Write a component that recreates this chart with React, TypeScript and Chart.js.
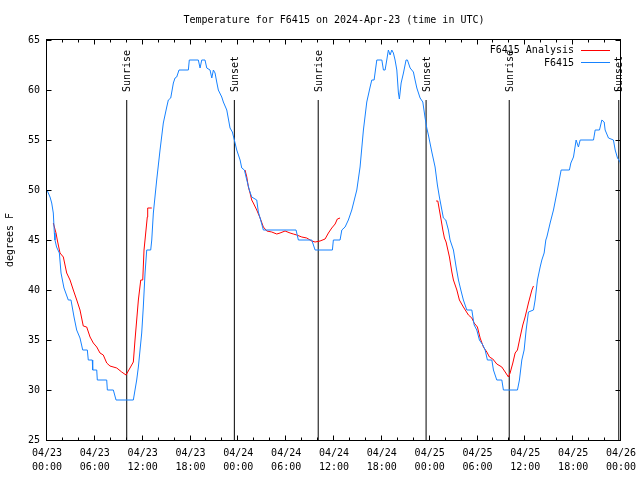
import React, { useEffect, useRef } from 'react';
import { Chart, registerables } from 'chart.js';

Chart.register(...registerables);

const TITLE = 'Temperature for F6415 on 2024-Apr-23 (time in UTC)';
const Y_TITLE = 'degrees F';
const DAY_LABELS = ['04/23', '04/24', '04/25', '04/26'];
const TIME_LABELS = ['00:00', '06:00', '12:00', '18:00'];
const OBS_LABEL = 'F6415';
const ANALYSIS_LABEL = 'F6415 Analysis';
const SUNRISE_LABEL = 'Sunrise';
const SUNSET_LABEL = 'Sunset';

// hours since 04/23 00:00 UTC
const obsHours = [
  0.0, 0.38, 0.59, 0.79, 0.92, 1.0, 1.2, 1.55, 1.76, 2.13, 2.67, 3.01, 3.39, 3.72, 4.14, 4.48, 5.06, 5.18,
  5.68, 5.73, 6.24, 6.31, 7.49, 7.57, 8.32, 8.66, 10.83, 11.04, 11.25, 11.46, 11.67, 11.88, 12.08, 12.3,
  12.51, 13.01, 13.14, 13.34, 13.76, 14.18, 14.59, 15.02, 15.22, 15.52, 15.85, 16.06, 16.27, 16.56, 17.73,
  17.85, 18.98, 19.2, 19.41, 19.82, 20.04, 20.45, 20.67, 20.87, 21.08, 21.29, 21.49, 21.92, 22.12, 22.55,
  22.96, 23.25, 23.5, 23.8, 24.22, 24.43, 24.76, 25.06, 25.38, 25.68, 26.31, 26.51, 26.73, 27.14, 31.24,
  31.53, 33.21, 33.63, 35.8, 35.92, 36.76, 36.98, 37.39, 37.8, 38.23, 38.64, 38.86, 39.27, 39.69, 40.11,
  40.53, 40.74, 41.03, 41.37, 42.0, 42.2, 42.41, 42.62, 42.82, 43.04, 43.25, 43.45, 43.66, 43.88, 44.08,
  44.2, 44.42, 44.71, 45.04, 45.21, 45.55, 45.96, 46.17, 46.39, 46.8, 47.14, 47.43, 47.64, 47.84, 48.27,
  48.68, 48.97, 49.22, 49.72, 50.02, 50.35, 50.56, 50.98, 51.32, 51.61, 51.91, 52.23, 52.66, 53.29, 53.58,
  53.91, 54.24, 54.67, 54.96, 55.24, 55.8, 56.0, 56.42, 57.05, 57.25, 59.01, 59.26, 59.56, 59.85, 60.1,
  60.39, 61.02, 61.23, 61.52, 61.86, 62.07, 62.36, 62.57, 62.7, 63.11, 63.53, 63.95, 64.49, 65.53, 65.71,
  66.04, 66.37, 66.66, 66.88, 68.55, 68.76, 69.3, 69.6, 69.89, 70.01, 70.43, 71.05, 71.27, 71.56, 71.89, 72.0,
];
const obsTemps = [
  50, 49.3, 48.7, 47.7, 45.7, 45, 44.3, 43.7, 41.7, 40.2, 39, 39, 37.3, 36, 35.2, 34, 34, 33,
  33, 32, 32, 31, 31, 30, 30, 29, 29, 30, 31, 32.3, 34, 35.7, 38.3, 41.7,
  44, 44, 45, 47.7, 51, 54, 56.7, 58.3, 59, 59.2, 60.7, 61.2, 61.3, 62, 62,
  63, 63, 62.2, 63, 63, 62.2, 62, 61.2, 62, 61.7, 60.8, 60, 59.3, 58.8, 58,
  56.2, 55.8, 55, 54, 53, 52.2, 52, 51, 50, 49.3, 49, 47.8, 47.2, 46, 46,
  45, 45, 44, 44, 45, 45, 46, 46.3, 47, 48, 49.3, 50, 52.3, 56, 58.8,
  60.3, 61, 61, 63, 63, 62, 62, 63, 64, 63.5, 64, 63.7, 63, 62, 59.7,
  59.1, 60.7, 61.7, 63, 63, 62.2, 61.8, 61, 60.2, 59.2, 58.8, 57.2, 56.2, 55.5, 53.8,
  52.3, 50.5, 49.3, 47.2, 47, 46, 45, 44, 42.3, 41, 40, 39, 38, 38, 36.5,
  36, 35, 34.5, 34, 33, 33, 32, 31, 31, 30, 30, 31, 33, 34, 36,
  37.8, 38, 39, 41, 42.3, 43, 43.7, 45, 45.3, 46.7, 48, 49.7, 52, 52, 52.7,
  53.3, 55, 54.3, 55, 55, 56, 56, 57, 56.8, 56, 55.2, 55, 54, 53.2, 52.8, 52.3,
];

const analysisHours = [
  0.79, 1.13, 1.29, 1.63, 2.05, 2.47, 2.89, 3.3, 3.73, 4.14, 4.55, 4.98, 5.4, 5.81, 6.24, 6.65, 7.06, 7.49,
  7.9, 8.75, 9.37, 9.91, 10.41, 10.83, 11.04, 11.25, 11.46, 11.76, 12.01, 12.17, 12.42, 12.58, 12.63, 13.14,
  13.5,
  24.84, 25.06, 25.26, 25.47, 25.68, 25.88, 26.31, 26.73, 27.14, 27.57, 28.19, 28.82, 29.23, 29.86, 30.49,
  30.9, 31.33, 31.96, 32.58, 33.21, 33.63, 34.25, 34.88, 35.3, 35.72, 36.14, 36.42, 36.76,
  37.0,
  48.81, 49.02, 49.22, 49.44, 49.65, 49.85, 50.06, 50.48, 50.78, 50.98, 51.41, 51.73, 52.23, 52.86, 53.29,
  53.58, 53.99, 54.33, 54.74, 55.17, 55.5, 55.92, 56.42, 57.05, 57.47, 57.88, 58.09, 58.43, 58.72, 59.01,
  59.35, 59.68, 59.97, 60.39, 60.82, 61.02,
];
const analysisTemps = [
  46.7, 45.7, 45, 43.7, 43.3, 41.7, 41, 40, 39, 38, 36.4, 36.3, 35.3, 34.7, 34.3, 33.7, 33.5, 32.7,
  32.4, 32.2, 31.8, 31.5, 32.2, 32.8, 35, 37, 39, 41, 41, 44, 46, 47.3, 48.2, 48.2,
  null,
  52, 51.3, 50.3, 49.7, 49, 48.7, 48, 47.2, 46.3, 45.9, 45.8, 45.6, 45.7, 45.9, 45.7,
  45.6, 45.5, 45.3, 45.2, 44.9, 44.8, 44.9, 45.1, 45.7, 46.2, 46.6, 47.1, 47.2,
  null,
  48.9, 48.9, 48, 47, 46, 45.2, 44.8, 43.3, 41.8, 41, 40, 39, 38.3, 37.5, 37.2,
  36.7, 36.3, 35.2, 34.3, 33.8, 33.3, 33.1, 32.6, 32.3, 31.8, 31.3, 31.7, 32.7, 33.7, 34,
  35.3, 36.5, 37.3, 38.7, 40, 40.4,
];

const sunriseHours = [10.0, 34.02, 57.98];
const sunsetHours = [23.5, 47.55, 71.72];

const Y_MIN = 25;
const Y_MAX = 65;
const X_MIN = 0;
const X_MAX = 72;

const OBS_COLOR = '#1682ff';
const ANALYSIS_COLOR = '#ff0000';
const FONT = '"DejaVu Sans Mono", "Liberation Mono", monospace';

const gnuplotFrame = {
  id: 'gnuplotFrame',
  afterDraw(chart: any) {
    const { ctx, chartArea: a, scales } = chart;
    const xs = scales.x;
    const ys = scales.y;
    ctx.save();
    ctx.strokeStyle = '#000';
    ctx.lineWidth = 1;
    const L = a.left - 0.5;
    const R = a.right - 0.5;
    const T = a.top - 0.5;
    const B = a.bottom + 0.5;
    ctx.strokeRect(L, T, R - L, B - T);
    ctx.beginPath();
    for (let v = X_MIN; v <= X_MAX; v += 2) {
      const px = Math.round(xs.getPixelForValue(v)) - 0.5;
      const len = v % 6 === 0 ? 5 : 3;
      ctx.moveTo(px, B);
      ctx.lineTo(px, B - len);
      ctx.moveTo(px, T);
      ctx.lineTo(px, T + len);
    }
    for (let v = Y_MIN; v <= Y_MAX; v += 5) {
      const py = Math.round(ys.getPixelForValue(v)) + 0.5;
      ctx.moveTo(L, py);
      ctx.lineTo(L + 5, py);
      ctx.moveTo(R, py);
      ctx.lineTo(R - 5, py);
    }
    ctx.stroke();

    // sunrise / sunset labels
    ctx.fillStyle = '#000';
    ctx.font = '10px ' + FONT;
    ctx.textAlign = 'left';
    ctx.textBaseline = 'middle';
    const labelY = ys.getPixelForValue(Y_MIN + 0.87 * (Y_MAX - Y_MIN));
    const drawLabel = (h: number, text: string) => {
      const px = xs.getPixelForValue(h) + 1;
      ctx.save();
      ctx.translate(px, labelY);
      ctx.rotate(-Math.PI / 2);
      ctx.fillText(text, 0, 0);
      ctx.restore();
    };
    sunriseHours.forEach((h) => drawLabel(h, SUNRISE_LABEL));
    sunsetHours.forEach((h) => drawLabel(h, SUNSET_LABEL));

    // legend
    const legendItems = [
      { text: ANALYSIS_LABEL, color: ANALYSIS_COLOR },
      { text: OBS_LABEL, color: OBS_COLOR },
    ];
    legendItems.forEach((item, i) => {
      const ty = a.top + 10.5 + i * 12.5;
      ctx.textAlign = 'right';
      ctx.fillStyle = '#000';
      ctx.fillText(item.text, a.right - 47, ty);
      ctx.strokeStyle = item.color;
      ctx.beginPath();
      ctx.moveTo(a.right - 40, Math.round(ty - 1) + 0.5);
      ctx.lineTo(a.right - 11, Math.round(ty - 1) + 0.5);
      ctx.stroke();
    });

    // title
    ctx.fillStyle = '#000';
    ctx.textAlign = 'center';
    ctx.fillText(TITLE, (a.left + a.right) / 2, 20);
    ctx.restore();
  },
};

function vline(h: number) {
  return {
    label: '',
    data: [
      { x: h, y: Y_MIN },
      { x: h, y: 59 },
    ],
    borderColor: '#000',
    borderWidth: 1,
    pointRadius: 0,
    tension: 0,
  };
}

export default function App() {
  const ref = useRef<HTMLCanvasElement | null>(null);
  useEffect(() => {
    document.body.style.margin = '0';
    const canvas = ref.current;
    if (!canvas) return;
    const obsData = obsHours.map((h, i) => ({ x: h, y: obsTemps[i] }));
    const analysisData = analysisHours.map((h, i) => ({ x: h, y: analysisTemps[i] }));
    const chart = new Chart(canvas, {
      type: 'line',
      data: {
        datasets: [
          {
            label: OBS_LABEL,
            data: obsData,
            borderColor: OBS_COLOR,
            borderWidth: 1,
            pointRadius: 0,
            tension: 0,
          },
          {
            label: ANALYSIS_LABEL,
            data: analysisData as any,
            borderColor: ANALYSIS_COLOR,
            borderWidth: 1,
            pointRadius: 0,
            tension: 0,
            spanGaps: false,
          },
          ...sunriseHours.map(vline),
          ...sunsetHours.map(vline),
        ],
      },
      options: {
        animation: false,
        responsive: false,
        devicePixelRatio: 1,
        layout: { padding: { top: 40, right: 19, left: 0, bottom: 0 } },
        plugins: {
          legend: { display: false },
          title: { display: false },
          tooltip: { enabled: false },
        },
        scales: {
          x: {
            type: 'linear',
            min: X_MIN,
            max: X_MAX,
            grid: { display: false, drawTicks: false },
            border: { display: false },
            afterFit: (s: any) => {
              s.height = 40;
              s.paddingLeft = 0;
              s.paddingRight = 0;
            },
            ticks: {
              stepSize: 2,
              autoSkip: false,
              maxRotation: 0,
              minRotation: 0,
              padding: 7,
              color: '#000',
              font: { family: FONT, size: 10, lineHeight: 1.35 },
              callback: (value: any) => {
                const v = Number(value);
                if (v % 6 !== 0) return '';
                const day = Math.floor(v / 24);
                const t = (v % 24) / 6;
                return [DAY_LABELS[day], TIME_LABELS[t]];
              },
            },
          },
          y: {
            type: 'linear',
            min: Y_MIN,
            max: Y_MAX,
            grid: { display: false, drawTicks: false },
            border: { display: false },
            afterFit: (s: any) => {
              s.width = 47;
              s.paddingTop = 0;
              s.paddingBottom = 0;
            },
            title: {
              display: true,
              text: Y_TITLE,
              color: '#000',
              font: { family: FONT, size: 10, lineHeight: 1.2 },
              padding: { top: 4, bottom: 0 },
            },
            ticks: {
              stepSize: 5,
              padding: 7,
              color: '#000',
              font: { family: FONT, size: 10 },
            },
          },
        },
      },
      plugins: [gnuplotFrame],
    });
    return () => chart.destroy();
  }, []);
  return <canvas ref={ref} width={640} height={480} style={{ display: 'block' }} />;
}
